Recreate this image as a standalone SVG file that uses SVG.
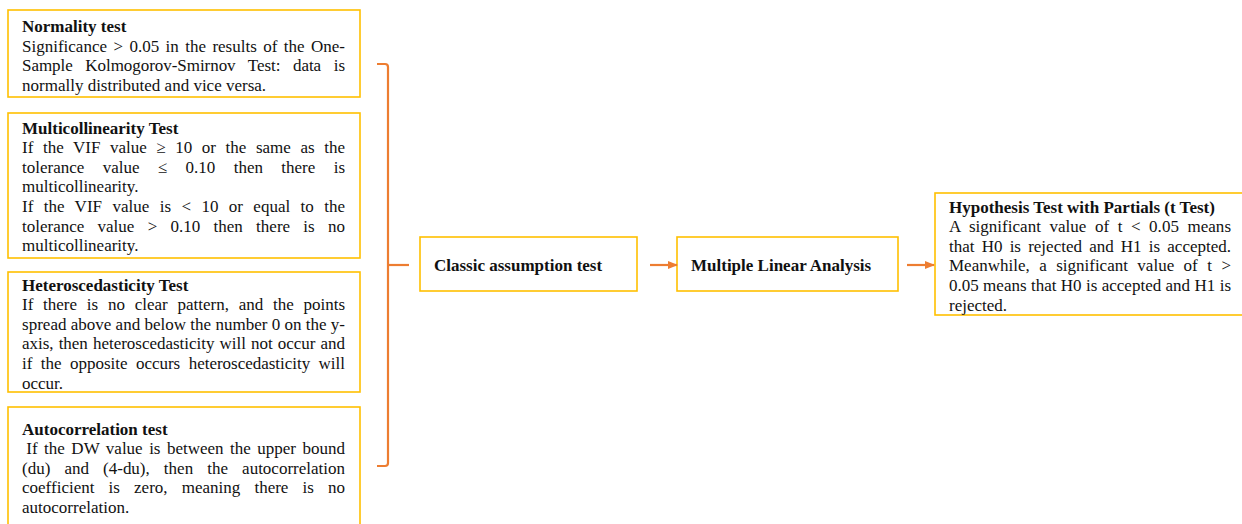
<svg xmlns="http://www.w3.org/2000/svg" width="1242" height="524" viewBox="0 0 1242 524">
<defs>
<marker id="ah" markerWidth="10" markerHeight="8" refX="9" refY="4" orient="auto" markerUnits="userSpaceOnUse">
<path d="M0,0 L10,4 L0,8 Z" fill="#ED7D31"/>
</marker>
<style>
.box{fill:#fff;stroke:#FFC000;stroke-width:1.6}
.t{font-family:"Liberation Serif","Times New Roman",serif;font-size:17px;fill:#111}
.b{font-weight:bold}
.con{fill:none;stroke:#ED7D31;stroke-width:2.2}
</style>
</defs>
<rect width="1242" height="524" fill="#fff"/>

<g id="normality">
<rect class="box" x="8" y="10" width="352" height="87"/>
<text class="t b" x="22" y="31.5">Normality test</text>
<text class="t" x="22" y="51.5" word-spacing="2.17" textLength="323" lengthAdjust="spacing">Significance &gt; 0.05 in the results of the One-</text>
<text class="t" x="22" y="71.1" word-spacing="8.4" textLength="323" lengthAdjust="spacing">Sample Kolmogorov-Smirnov Test: data is</text>
<text class="t" x="22" y="90.7">normally distributed and vice versa.</text>
</g>

<g id="multicollinearity">
<rect class="box" x="8" y="113" width="352" height="145"/>
<text class="t b" x="22" y="133.5">Multicollinearity Test</text>
<text class="t" x="22" y="153.1" word-spacing="5.3" textLength="323" lengthAdjust="spacing">If the VIF value ≥ 10 or the same as the</text>
<text class="t" x="22" y="172.7" word-spacing="14.1" textLength="323" lengthAdjust="spacing">tolerance value ≤ 0.10 then there is</text>
<text class="t" x="22" y="192.3">multicollinearity.</text>
<text class="t" x="22" y="211.9" word-spacing="6.13" textLength="323" lengthAdjust="spacing">If the VIF value is &lt; 10 or equal to the</text>
<text class="t" x="22" y="231.5" word-spacing="9.03" textLength="323" lengthAdjust="spacing">tolerance value &gt; 0.10 then there is no</text>
<text class="t" x="22" y="251.1">multicollinearity.</text>
</g>

<g id="heteroscedasticity">
<rect class="box" x="8" y="272" width="352" height="120"/>
<text class="t b" x="22" y="290.5">Heteroscedasticity Test</text>
<text class="t" x="22" y="310.1" word-spacing="5.5" textLength="323" lengthAdjust="spacing">If there is no clear pattern, and the points</text>
<text class="t" x="22" y="329.7" textLength="323" lengthAdjust="spacing">spread above and below the number 0 on the y-</text>
<text class="t" x="22" y="349.3" word-spacing="0.85" textLength="323" lengthAdjust="spacing">axis, then heteroscedasticity will not occur and</text>
<text class="t" x="22" y="368.9" word-spacing="4.24" textLength="323" lengthAdjust="spacing">if the opposite occurs heteroscedasticity will</text>
<text class="t" x="22" y="388.5">occur.</text>
</g>

<g id="autocorrelation">
<rect class="box" x="8" y="407" width="352" height="130"/>
<text class="t b" x="22" y="434.5">Autocorrelation test</text>
<text class="t" x="26.3" y="454.1" word-spacing="2.19" textLength="318.7" lengthAdjust="spacing">If the DW value is between the upper bound</text>
<text class="t" x="22" y="473.7" word-spacing="9.84" textLength="323" lengthAdjust="spacing">(du) and (4-du), then the autocorrelation</text>
<text class="t" x="22" y="493.3" word-spacing="9.85" textLength="323" lengthAdjust="spacing">coefficient is zero, meaning there is no</text>
<text class="t" x="22" y="512.9">autocorrelation.</text>
</g>

<g id="classic">
<rect class="box" x="420" y="237" width="217" height="54"/>
<text class="t b" x="434" y="271">Classic assumption test</text>
</g>

<g id="multiple">
<rect class="box" x="677" y="237" width="221" height="54"/>
<text class="t b" x="691" y="271">Multiple Linear Analysis</text>
</g>

<g id="hypothesis">
<rect class="box" x="935" y="193" width="320" height="122"/>
<text class="t b" x="949" y="212.5">Hypothesis Test with Partials (t Test)</text>
<text class="t" x="949" y="232.1" word-spacing="4.24" textLength="282" lengthAdjust="spacing">A significant value of t &lt; 0.05 means</text>
<text class="t" x="949" y="251.7" word-spacing="2.93" textLength="282" lengthAdjust="spacing">that H0 is rejected and H1 is accepted.</text>
<text class="t" x="949" y="271.3" word-spacing="5.19" textLength="282" lengthAdjust="spacing">Meanwhile, a significant value of t &gt;</text>
<text class="t" x="949" y="290.9" word-spacing="0.14" textLength="282" lengthAdjust="spacing">0.05 means that H0 is accepted and H1 is</text>
<text class="t" x="949" y="310.5">rejected.</text>
</g>

<g id="connectors">
<path class="con" d="M377,64 H385 Q388,64 388,67 V463 Q388,466 385,466 H377"/>
<path class="con" d="M388,265 H409"/>
<path class="con" d="M650,265 H677" marker-end="url(#ah)"/>
<path class="con" d="M907,265 H934" marker-end="url(#ah)"/>
</g>
</svg>
